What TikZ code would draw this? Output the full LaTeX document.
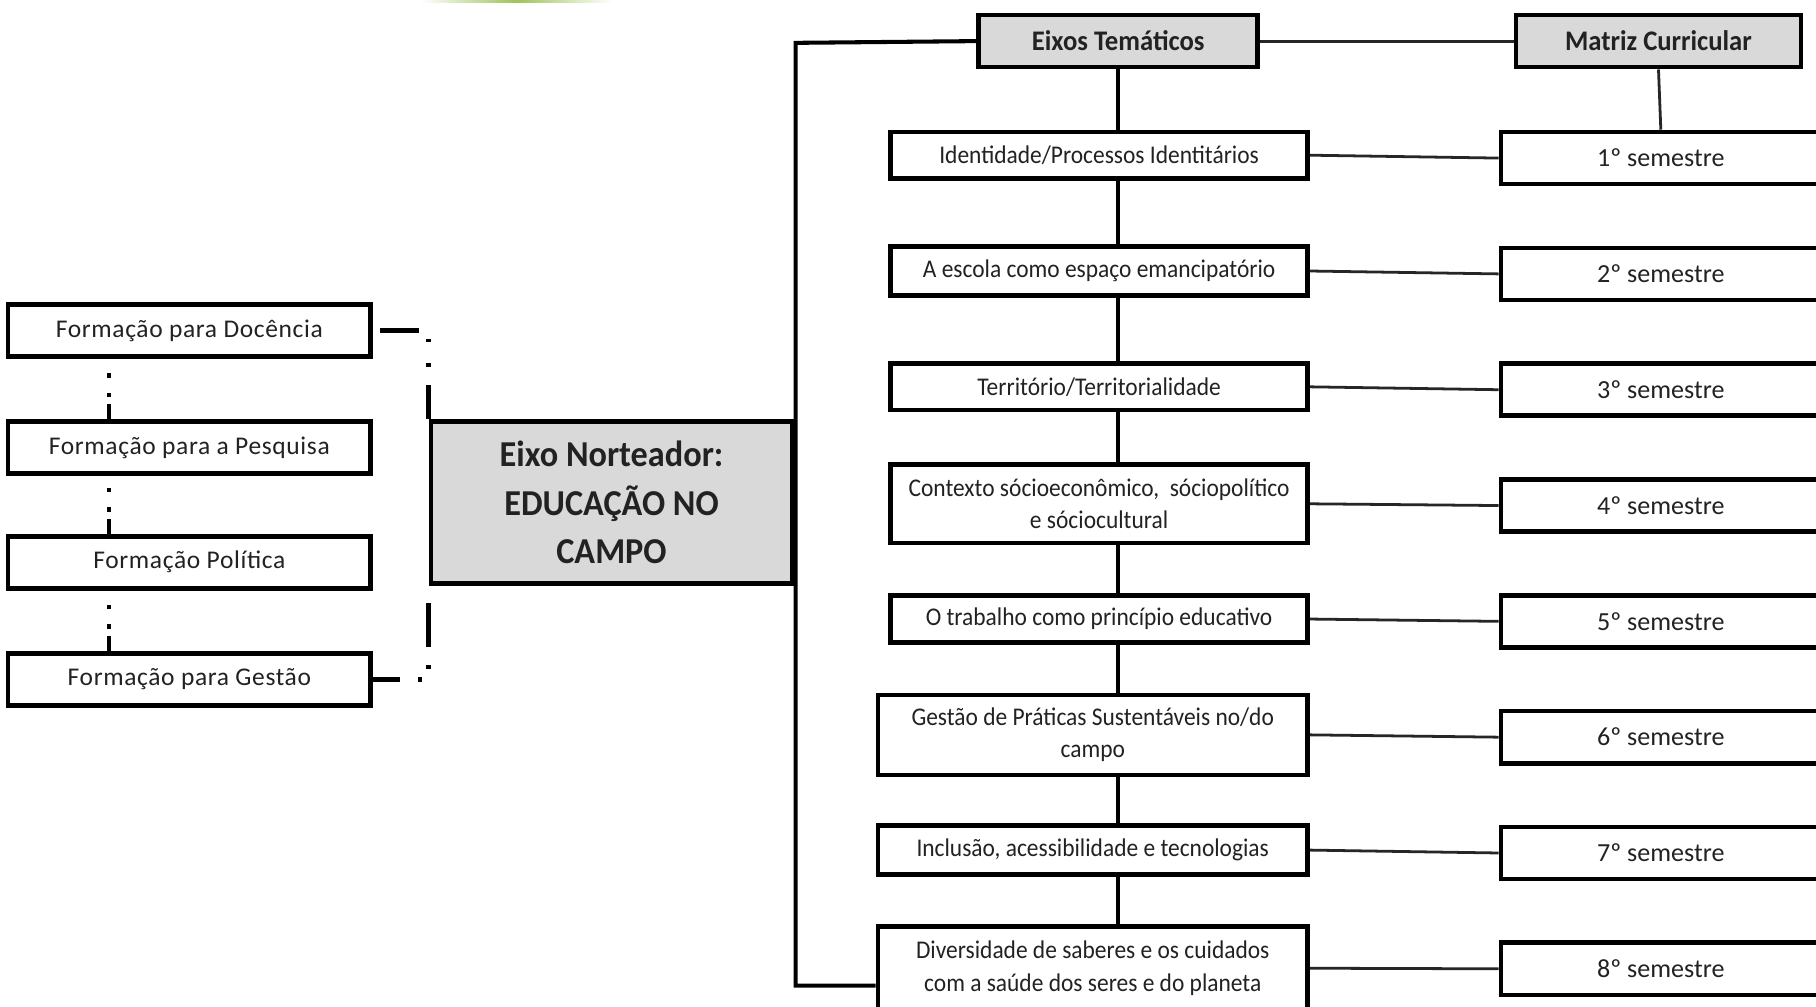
\documentclass[tikz,border=0pt]{standalone}
\usepackage{fontspec}
\setmainfont{Carlito}
\newfontfamily\leftfont{Carlito}[LetterSpace=2.5]
\newfontfamily\condfont{Carlito}[FakeStretch=0.92]
\newfontfamily\boldcond{Carlito}[FakeStretch=0.94,UprightFont=* Bold]
\definecolor{boxgray}{HTML}{D9D9D9}
\definecolor{txt}{HTML}{222222}
\definecolor{leaf}{HTML}{9DC45A}
\tikzset{
  box/.style={draw=black, line width=4pt, fill=white, inner sep=0pt, align=center, text=txt},
  graybox/.style={box, fill=boxgray},
  leftbox/.style={box, minimum width=313pt, minimum height=45pt, font=\leftfont\fontsize{22}{26}\selectfont},
  themebox/.style={box, font=\condfont\fontsize{22}{28}\selectfont},
  sembox/.style={box, minimum width=276pt, minimum height=45pt, font=\fontsize{22.5}{26}\selectfont},
  bus/.style={line width=3.5pt},
  thinlink/.style={line width=2.4pt, draw=black!85},
  dashlink/.style={line width=4pt, line cap=butt}
}
\begin{document}
\begin{tikzpicture}[x=1pt,y=-1pt]
\clip (0,0) rectangle (1568,869);
\fill[white] (0,0) rectangle (1568,869);
% green sliver at top
\shade[left color=white, right color=white, middle color=leaf] (363,0) rectangle (528,2.5);

\coordinate (busT) at (687,37);
\coordinate (busB) at (687,851);

% left column
\node[leftbox] (doc) at (163.5,285.5) {Formação para Docência};
\node[leftbox] (pes) at (163.5,386.5) {Formação para a Pesquisa};
\node[leftbox] (pol) at (163.5,485.5) {Formação Política};
\node[leftbox] (ges) at (163.5,586.5) {Formação para Gestão};

\node[graybox, minimum width=312pt, minimum height=140pt,
      font=\boldcond\fontsize{31.5}{42}\selectfont] (eixo) at (528,434)
      {Eixo Norteador:\\EDUCAÇÃO NO\\CAMPO};

\node[graybox, minimum width=241pt, minimum height=45pt,
      font=\boldcond\fontsize{24.5}{28}\selectfont] (eixos) at (965.5,35.5) {Eixos Temáticos};
\node[graybox, minimum width=246pt, minimum height=45pt,
      font=\boldcond\fontsize{24.5}{28}\selectfont] (matriz) at (1432,35.5) {Matriz Curricular};

% vertical spine behind theme boxes
\draw[bus] (eixos.south) -- (eixos.south |- 0,798);

\node[themebox, minimum width=360pt, minimum height=40pt] (t1) at (949,134) {Identidade/Processos Identitários};
\node[themebox, minimum width=360pt, minimum height=42pt] (t2) at (949,234) {A escola como espaço emancipatório};
\node[themebox, minimum width=360pt, minimum height=40pt] (t3) at (949,334) {Território/Territorialidade};
\node[themebox, minimum width=360pt, minimum height=68pt] (t4) at (949,435) {Contexto sócioeconômico,\ \ sóciopolítico\\e sóciocultural};
\node[themebox, minimum width=360pt, minimum height=41pt] (t5) at (949,534.5) {O trabalho como princípio educativo};
\node[themebox, minimum width=371pt, minimum height=69pt] (t6) at (943.5,634.5) {Gestão de Práticas Sustentáveis no/do\\campo};
\node[themebox, minimum width=371pt, minimum height=42pt] (t7) at (943.5,734) {Inclusão, acessibilidade e tecnologias};
\node[themebox, minimum width=371pt, minimum height=72pt] (t8) at (943.5,836) {Diversidade de saberes e os cuidados\\com a saúde dos seres e do planeta};

\node[sembox] (s1) at (1434,136.5) {1º semestre};
\node[sembox] (s2) at (1434,236.5) {2º semestre};
\node[sembox] (s3) at (1434,336.5) {3º semestre};
\node[sembox] (s4) at (1434,436.5) {4º semestre};
\node[sembox] (s5) at (1434,536.5) {5º semestre};
\node[sembox] (s6) at (1434,636.5) {6º semestre};
\node[sembox] (s7) at (1434,736.5) {7º semestre};
\node[sembox] (s8) at (1434,836.5) {8º semestre};

% main bus
\draw[bus] (eixos.west) -- (busT) -- (busB) -- (t8.west |- busB);
\draw[thinlink] (eixos.east) -- (matriz.west);
\draw[thinlink] (matriz.south) -- (s1.north);

% theme to semester links
\foreach \i in {1,...,8} {
  \draw[thinlink] (t\i.east) -- (s\i.west);
}

% dash-dot links on the left
\foreach \a/\b in {pes/doc, pol/pes, ges/pol} {
  \draw[dashlink, dash pattern=on 13pt off 6pt on 4pt off 13pt on 4pt off 13pt]
    ([xshift=-69.5pt]\a.north) -- ([xshift=-69.5pt]\b.south);
}
\draw[dashlink, dash pattern=on 0pt off 6pt on 34pt off 15pt on 3pt off 18pt on 3pt off 16pt on 34pt]
  (doc.east) -| (eixo.north west);
\draw[dashlink, dash pattern=on 23pt off 16pt on 3pt off 15pt on 3pt off 16pt on 38pt off 20pt]
  (ges.east) -| (eixo.south west);
\end{tikzpicture}
\end{document}
